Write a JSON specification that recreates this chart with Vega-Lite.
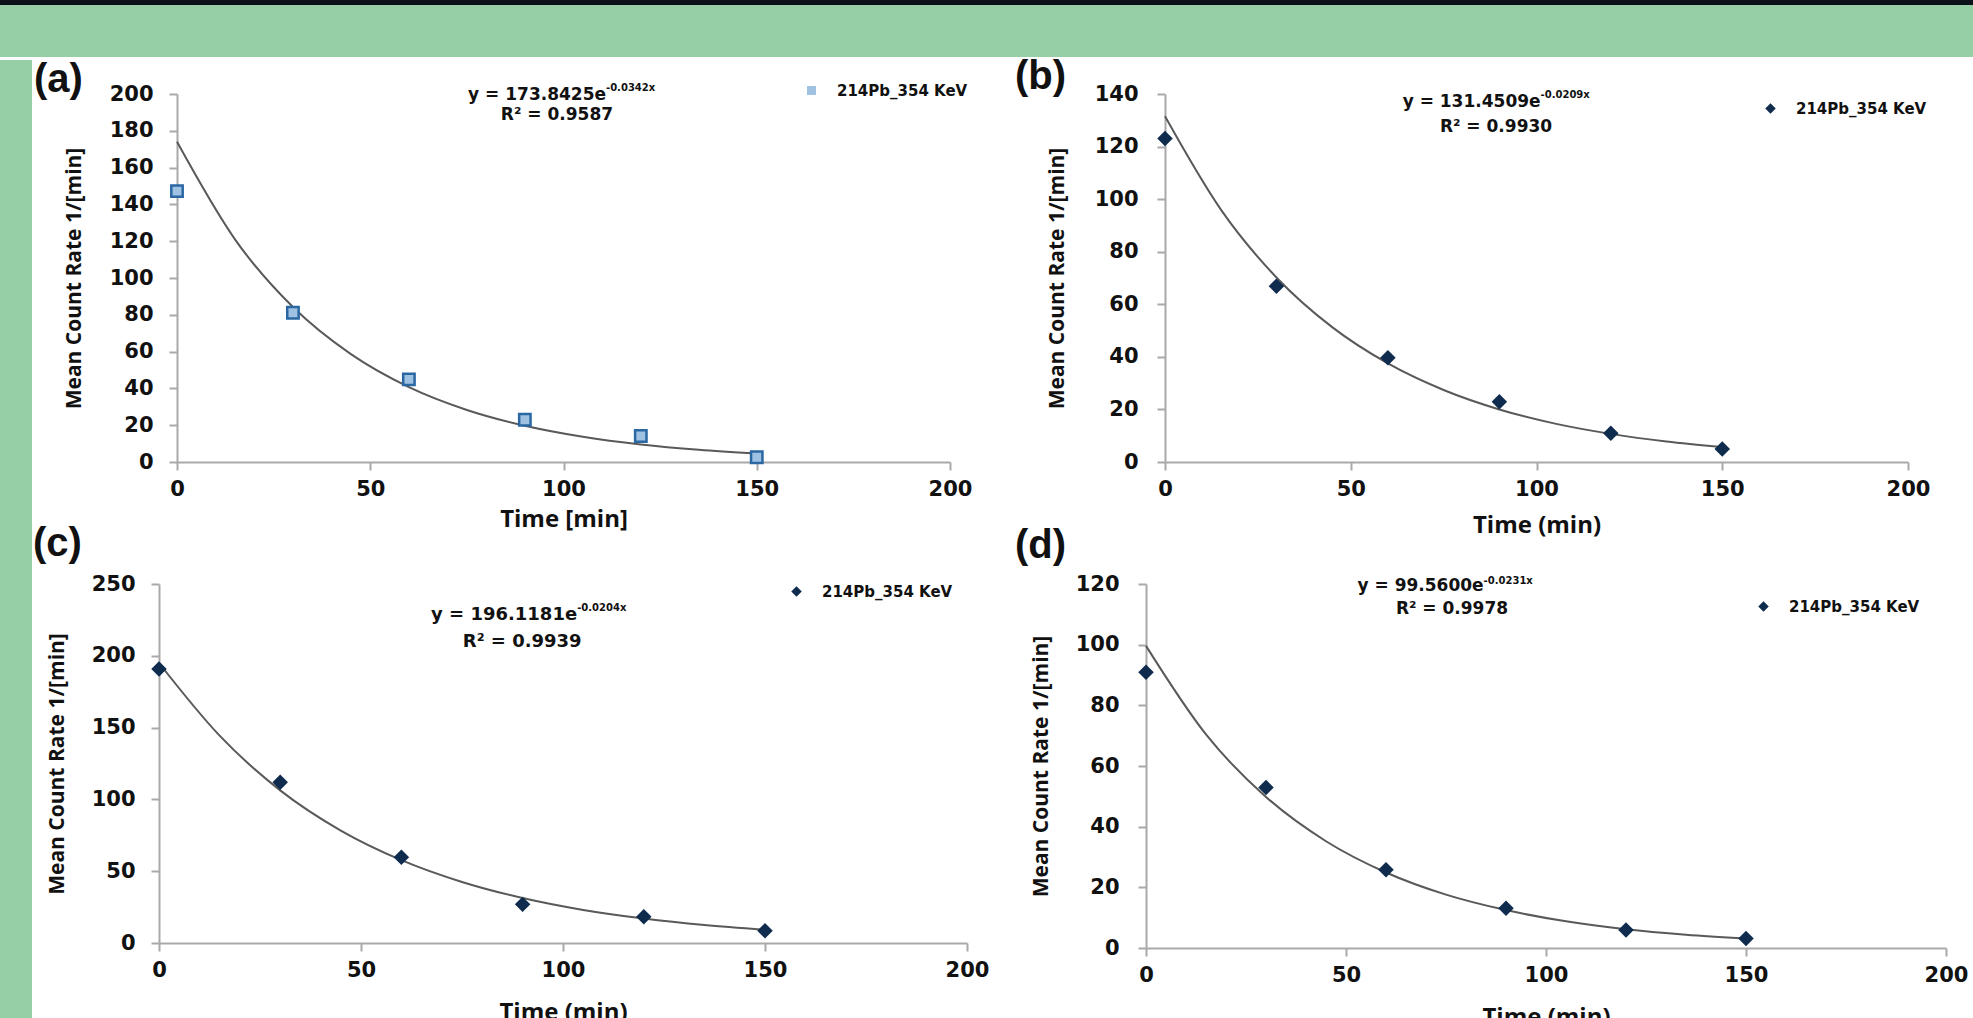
{
  "$schema": "https://vega.github.io/schema/vega-lite/v6.json",
  "background": "white",
  "padding": 0,
  "config": {
    "view": {"stroke": null},
    "axis": {"grid": false, "domainColor": "#a9a9a9", "domainWidth": 2, "tickColor": "#a9a9a9", "tickWidth": 2, "tickSize": 8, "labelFont": "DejaVu Sans", "labelFontWeight": "bold", "labelFontSize": 21, "labelColor": "#111111", "titleFont": "Open Sans", "titleFontWeight": "bold", "titleColor": "#111111", "labelOverlap": false},
    "axisX": {"labelPadding": 8, "titlePadding": 14, "titleFontSize": 24, "labelFlush": false},
    "axisY": {"titleFontSize": 21},
    "legend": {"orient": "none", "title": null, "labelFont": "DejaVu Sans", "labelFontWeight": "bold", "labelFontSize": 15, "labelColor": "#111111", "labelOffset": 18, "padding": 0, "symbolSize": 110},
    "title": {"font": "Liberation Sans", "fontWeight": "bold", "fontSize": 40, "color": "#111111", "anchor": "start", "frame": "group"},
    "text": {"font": "DejaVu Sans", "fontWeight": "bold", "color": "#111111"}
  },
  "datasets": {
    "points": [
      {"panel": "a", "time": 0, "rate": 147.2, "series": "214Pb_354 KeV"},
      {"panel": "a", "time": 30, "rate": 81.1, "series": "214Pb_354 KeV"},
      {"panel": "a", "time": 60, "rate": 44.9, "series": "214Pb_354 KeV"},
      {"panel": "a", "time": 90, "rate": 23.0, "series": "214Pb_354 KeV"},
      {"panel": "a", "time": 120, "rate": 14.1, "series": "214Pb_354 KeV"},
      {"panel": "a", "time": 150, "rate": 2.6, "series": "214Pb_354 KeV"},
      {"panel": "b", "time": 0, "rate": 123.1, "series": "214Pb_354 KeV"},
      {"panel": "b", "time": 30, "rate": 66.9, "series": "214Pb_354 KeV"},
      {"panel": "b", "time": 60, "rate": 39.7, "series": "214Pb_354 KeV"},
      {"panel": "b", "time": 90, "rate": 22.9, "series": "214Pb_354 KeV"},
      {"panel": "b", "time": 120, "rate": 10.9, "series": "214Pb_354 KeV"},
      {"panel": "b", "time": 150, "rate": 4.9, "series": "214Pb_354 KeV"},
      {"panel": "c", "time": 0, "rate": 190.8, "series": "214Pb_354 KeV"},
      {"panel": "c", "time": 30, "rate": 111.9, "series": "214Pb_354 KeV"},
      {"panel": "c", "time": 60, "rate": 59.7, "series": "214Pb_354 KeV"},
      {"panel": "c", "time": 90, "rate": 26.9, "series": "214Pb_354 KeV"},
      {"panel": "c", "time": 120, "rate": 18.3, "series": "214Pb_354 KeV"},
      {"panel": "c", "time": 150, "rate": 8.6, "series": "214Pb_354 KeV"},
      {"panel": "d", "time": 0, "rate": 90.9, "series": "214Pb_354 KeV"},
      {"panel": "d", "time": 30, "rate": 52.9, "series": "214Pb_354 KeV"},
      {"panel": "d", "time": 60, "rate": 25.8, "series": "214Pb_354 KeV"},
      {"panel": "d", "time": 90, "rate": 13.1, "series": "214Pb_354 KeV"},
      {"panel": "d", "time": 120, "rate": 5.9, "series": "214Pb_354 KeV"},
      {"panel": "d", "time": 150, "rate": 3.1, "series": "214Pb_354 KeV"}
    ],
    "trend": [
      {"panel": "a", "time": 0, "rate": 174.0}, {"panel": "a", "time": 15, "rate": 121.0}, {"panel": "a", "time": 30, "rate": 84.2}, {"panel": "a", "time": 45, "rate": 58.6}, {"panel": "a", "time": 60, "rate": 40.7}, {"panel": "a", "time": 75, "rate": 28.3}, {"panel": "a", "time": 90, "rate": 19.7}, {"panel": "a", "time": 105, "rate": 13.7}, {"panel": "a", "time": 120, "rate": 9.5}, {"panel": "a", "time": 135, "rate": 6.6}, {"panel": "a", "time": 150, "rate": 4.6},
      {"panel": "b", "time": 0, "rate": 131.5}, {"panel": "b", "time": 15, "rate": 96.1}, {"panel": "b", "time": 30, "rate": 70.2}, {"panel": "b", "time": 45, "rate": 51.3}, {"panel": "b", "time": 60, "rate": 37.5}, {"panel": "b", "time": 75, "rate": 27.4}, {"panel": "b", "time": 90, "rate": 20.0}, {"panel": "b", "time": 105, "rate": 14.6}, {"panel": "b", "time": 120, "rate": 10.7}, {"panel": "b", "time": 135, "rate": 7.8}, {"panel": "b", "time": 150, "rate": 5.7},
      {"panel": "c", "time": 0, "rate": 195.0}, {"panel": "c", "time": 15, "rate": 144.4}, {"panel": "c", "time": 30, "rate": 106.3}, {"panel": "c", "time": 45, "rate": 78.3}, {"panel": "c", "time": 60, "rate": 57.7}, {"panel": "c", "time": 75, "rate": 42.5}, {"panel": "c", "time": 90, "rate": 31.3}, {"panel": "c", "time": 105, "rate": 23.0}, {"panel": "c", "time": 120, "rate": 17.0}, {"panel": "c", "time": 135, "rate": 12.5}, {"panel": "c", "time": 150, "rate": 9.2},
      {"panel": "d", "time": 0, "rate": 99.6}, {"panel": "d", "time": 15, "rate": 70.4}, {"panel": "d", "time": 30, "rate": 49.8}, {"panel": "d", "time": 45, "rate": 35.2}, {"panel": "d", "time": 60, "rate": 24.9}, {"panel": "d", "time": 75, "rate": 17.6}, {"panel": "d", "time": 90, "rate": 12.5}, {"panel": "d", "time": 105, "rate": 8.8}, {"panel": "d", "time": 120, "rate": 6.2}, {"panel": "d", "time": 135, "rate": 4.4}, {"panel": "d", "time": 150, "rate": 3.1}
    ],
    "notes": [
      {"panel": "a", "part": "main", "time": 111, "rate": 199.6, "label": "y = 173.8425e"},
      {"panel": "a", "part": "sup", "time": 111, "rate": 203.5, "label": "-0.0342x"},
      {"panel": "a", "part": "r2", "time": 98.3, "rate": 188.7, "label": "R² = 0.9587"},
      {"panel": "b", "part": "main", "time": 101.1, "rate": 137.0, "label": "y = 131.4509e"},
      {"panel": "b", "part": "sup", "time": 101.1, "rate": 139.6, "label": "-0.0209x"},
      {"panel": "b", "part": "r2", "time": 89.1, "rate": 127.5, "label": "R² = 0.9930"},
      {"panel": "c", "part": "main", "time": 103.5, "rate": 228.4, "label": "y = 196.1181e"},
      {"panel": "c", "part": "sup", "time": 103.5, "rate": 233.3, "label": "-0.0204x"},
      {"panel": "c", "part": "r2", "time": 89.9, "rate": 209.6, "label": "R² = 0.9939"},
      {"panel": "d", "part": "main", "time": 84.4, "rate": 119.4, "label": "y = 99.5600e"},
      {"panel": "d", "part": "sup", "time": 84.4, "rate": 121.0, "label": "-0.0231x"},
      {"panel": "d", "part": "r2", "time": 76.5, "rate": 111.8, "label": "R² = 0.9978"}
    ]
  },
  "spacing": 0,
  "resolve": {"scale": {"shape": "independent"}, "legend": {"shape": "independent"}},
  "vconcat": [
    {"width": 1973, "height": 5, "data": {"values": []}, "mark": "point", "encoding": {}, "view": {"fill": "#0c1119", "stroke": null}},
    {"width": 1973, "height": 52, "data": {"values": []}, "mark": "point", "encoding": {}, "view": {"fill": "#96cea6", "stroke": null}},
    {
      "spacing": 0,
      "resolve": {"scale": {"shape": "independent"}, "legend": {"shape": "independent"}},
      "hconcat": [
        {"width": 32, "height": 961, "data": {"values": []}, "mark": "point", "encoding": {}, "view": {"fill": "#96cea6", "stroke": null}},
        {
          "spacing": -14,
          "resolve": {"scale": {"shape": "independent"}, "legend": {"shape": "independent"}},
          "vconcat": [
            {"width": 1, "height": 11, "data": {"values": []}, "mark": "point", "encoding": {}},
            {
              "spacing": 0,
              "resolve": {"scale": {"shape": "independent"}, "legend": {"shape": "independent"}},
              "hconcat": [
                {"width": 2, "height": 1, "data": {"values": []}, "mark": "point", "encoding": {}},
                {
                  "width": 773, "height": 368,
                  "title": {"text": "(a)", "dx": -143, "offset": -17},
                  "encoding": {
                    "x": {"field": "time", "type": "quantitative", "scale": {"domain": [0, 200], "nice": false}, "axis": {"title": "Time [min]", "values": [0, 50, 100, 150, 200], "titlePadding": 8}},
                    "y": {"field": "rate", "type": "quantitative", "scale": {"domain": [0, 200], "nice": false}, "axis": {"title": "Mean Count Rate 1/[min]", "values": [0, 20, 40, 60, 80, 100, 120, 140, 160, 180, 200], "labelPadding": 16, "titlePadding": 25}}
                  },
                  "layer": [
                    {"data": {"name": "trend"}, "transform": [{"filter": "datum.panel === 'a'"}], "mark": {"type": "line", "color": "#595959", "strokeWidth": 2, "interpolate": "monotone"}},
                    {"data": {"name": "points"}, "transform": [{"filter": "datum.panel === 'a'"}], "mark": {"type": "point", "filled": true, "size": 130, "fill": "#9fc1e2", "stroke": "#2b68a3", "strokeWidth": 2.5, "opacity": 1},
                     "encoding": {"shape": {"field": "series", "type": "nominal", "scale": {"range": ["square"]}, "legend": {"legendX": 627, "legendY": -11, "symbolFillColor": "#9fc1e2", "symbolStrokeColor": "#2b68a3", "symbolStrokeWidth": 2, "symbolSize": 80}}}},
                    {"data": {"name": "notes"}, "transform": [{"filter": "datum.panel === 'a' && datum.part === 'main'"}], "mark": {"type": "text", "align": "right", "baseline": "middle", "fontSize": 17}, "encoding": {"text": {"field": "label"}}},
                    {"data": {"name": "notes"}, "transform": [{"filter": "datum.panel === 'a' && datum.part === 'sup'"}], "mark": {"type": "text", "align": "left", "baseline": "middle", "fontSize": 10}, "encoding": {"text": {"field": "label"}}},
                    {"data": {"name": "notes"}, "transform": [{"filter": "datum.panel === 'a' && datum.part === 'r2'"}], "mark": {"type": "text", "align": "center", "baseline": "middle", "fontSize": 17}, "encoding": {"text": {"field": "label"}}}
                  ]
                },
                {"width": 43, "height": 1, "data": {"values": []}, "mark": "point", "encoding": {}},
                {
                  "width": 743, "height": 368,
                  "title": {"text": "(b)", "dx": -150, "offset": -14},
                  "encoding": {
                    "x": {"field": "time", "type": "quantitative", "scale": {"domain": [0, 200], "nice": false}, "axis": {"title": "Time (min)", "values": [0, 50, 100, 150, 200]}},
                    "y": {"field": "rate", "type": "quantitative", "scale": {"domain": [0, 140], "nice": false}, "axis": {"title": "Mean Count Rate 1/[min]", "values": [0, 20, 40, 60, 80, 100, 120, 140], "labelPadding": 19, "titlePadding": 27}}
                  },
                  "layer": [
                    {"data": {"name": "trend"}, "transform": [{"filter": "datum.panel === 'b'"}], "mark": {"type": "line", "color": "#595959", "strokeWidth": 2, "interpolate": "monotone"}},
                    {"data": {"name": "points"}, "transform": [{"filter": "datum.panel === 'b'"}], "mark": {"type": "point", "filled": true, "size": 240, "color": "#0f2b4e", "opacity": 1},
                     "encoding": {"shape": {"field": "series", "type": "nominal", "scale": {"range": ["diamond"]}, "legend": {"legendX": 598, "legendY": 7, "symbolFillColor": "#0f2b4e", "symbolStrokeColor": "#0f2b4e"}}}},
                    {"data": {"name": "notes"}, "transform": [{"filter": "datum.panel === 'b' && datum.part === 'main'"}], "mark": {"type": "text", "align": "right", "baseline": "middle", "fontSize": 17}, "encoding": {"text": {"field": "label"}}},
                    {"data": {"name": "notes"}, "transform": [{"filter": "datum.panel === 'b' && datum.part === 'sup'"}], "mark": {"type": "text", "align": "left", "baseline": "middle", "fontSize": 10}, "encoding": {"text": {"field": "label"}}},
                    {"data": {"name": "notes"}, "transform": [{"filter": "datum.panel === 'b' && datum.part === 'r2'"}], "mark": {"type": "text", "align": "center", "baseline": "middle", "fontSize": 17}, "encoding": {"text": {"field": "label"}}}
                  ]
                }
              ]
            },
            {
              "spacing": 0,
              "resolve": {"scale": {"shape": "independent"}, "legend": {"shape": "independent"}},
              "hconcat": [
                {"width": 1, "height": 1, "data": {"values": []}, "mark": "point", "encoding": {}},
                {
                  "width": 808, "height": 359,
                  "title": {"text": "(c)", "dx": -126, "offset": 9.5},
                  "encoding": {
                    "x": {"field": "time", "type": "quantitative", "scale": {"domain": [0, 200], "nice": false}, "axis": {"title": "Time (min)", "values": [0, 50, 100, 150, 200], "titlePadding": 20}},
                    "y": {"field": "rate", "type": "quantitative", "scale": {"domain": [0, 250], "nice": false}, "axis": {"title": "Mean Count Rate 1/[min]", "values": [0, 50, 100, 150, 200, 250], "labelPadding": 16, "titlePadding": 24}}
                  },
                  "layer": [
                    {"data": {"name": "trend"}, "transform": [{"filter": "datum.panel === 'c'"}], "mark": {"type": "line", "color": "#595959", "strokeWidth": 2, "interpolate": "monotone"}},
                    {"data": {"name": "points"}, "transform": [{"filter": "datum.panel === 'c'"}], "mark": {"type": "point", "filled": true, "size": 240, "color": "#0f2b4e", "opacity": 1},
                     "encoding": {"shape": {"field": "series", "type": "nominal", "scale": {"range": ["diamond"]}, "legend": {"legendX": 630, "legendY": 0, "symbolFillColor": "#0f2b4e", "symbolStrokeColor": "#0f2b4e"}}}},
                    {"data": {"name": "notes"}, "transform": [{"filter": "datum.panel === 'c' && datum.part === 'main'"}], "mark": {"type": "text", "align": "right", "baseline": "middle", "fontSize": 18}, "encoding": {"text": {"field": "label"}}},
                    {"data": {"name": "notes"}, "transform": [{"filter": "datum.panel === 'c' && datum.part === 'sup'"}], "mark": {"type": "text", "align": "left", "baseline": "middle", "fontSize": 10}, "encoding": {"text": {"field": "label"}}},
                    {"data": {"name": "notes"}, "transform": [{"filter": "datum.panel === 'c' && datum.part === 'r2'"}], "mark": {"type": "text", "align": "center", "baseline": "middle", "fontSize": 18}, "encoding": {"text": {"field": "label"}}}
                  ]
                },
                {"width": 26, "height": 1, "data": {"values": []}, "mark": "point", "encoding": {}},
                {
                  "width": 800, "height": 364,
                  "title": {"text": "(d)", "dx": -131, "offset": 7.5},
                  "encoding": {
                    "x": {"field": "time", "type": "quantitative", "scale": {"domain": [0, 200], "nice": false}, "axis": {"title": "Time (min)", "values": [0, 50, 100, 150, 200], "titlePadding": 20}},
                    "y": {"field": "rate", "type": "quantitative", "scale": {"domain": [0, 120], "nice": false}, "axis": {"title": "Mean Count Rate 1/[min]", "values": [0, 20, 40, 60, 80, 100, 120], "labelPadding": 19, "titlePadding": 24}}
                  },
                  "layer": [
                    {"data": {"name": "trend"}, "transform": [{"filter": "datum.panel === 'd'"}], "mark": {"type": "line", "color": "#595959", "strokeWidth": 2, "interpolate": "monotone"}},
                    {"data": {"name": "points"}, "transform": [{"filter": "datum.panel === 'd'"}], "mark": {"type": "point", "filled": true, "size": 240, "color": "#0f2b4e", "opacity": 1},
                     "encoding": {"shape": {"field": "series", "type": "nominal", "scale": {"range": ["diamond"]}, "legend": {"legendX": 610, "legendY": 15, "symbolFillColor": "#0f2b4e", "symbolStrokeColor": "#0f2b4e"}}}},
                    {"data": {"name": "notes"}, "transform": [{"filter": "datum.panel === 'd' && datum.part === 'main'"}], "mark": {"type": "text", "align": "right", "baseline": "middle", "fontSize": 17}, "encoding": {"text": {"field": "label"}}},
                    {"data": {"name": "notes"}, "transform": [{"filter": "datum.panel === 'd' && datum.part === 'sup'"}], "mark": {"type": "text", "align": "left", "baseline": "middle", "fontSize": 10}, "encoding": {"text": {"field": "label"}}},
                    {"data": {"name": "notes"}, "transform": [{"filter": "datum.panel === 'd' && datum.part === 'r2'"}], "mark": {"type": "text", "align": "center", "baseline": "middle", "fontSize": 17}, "encoding": {"text": {"field": "label"}}}
                  ]
                }
              ]
            }
          ]
        }
      ]
    }
  ]
}
